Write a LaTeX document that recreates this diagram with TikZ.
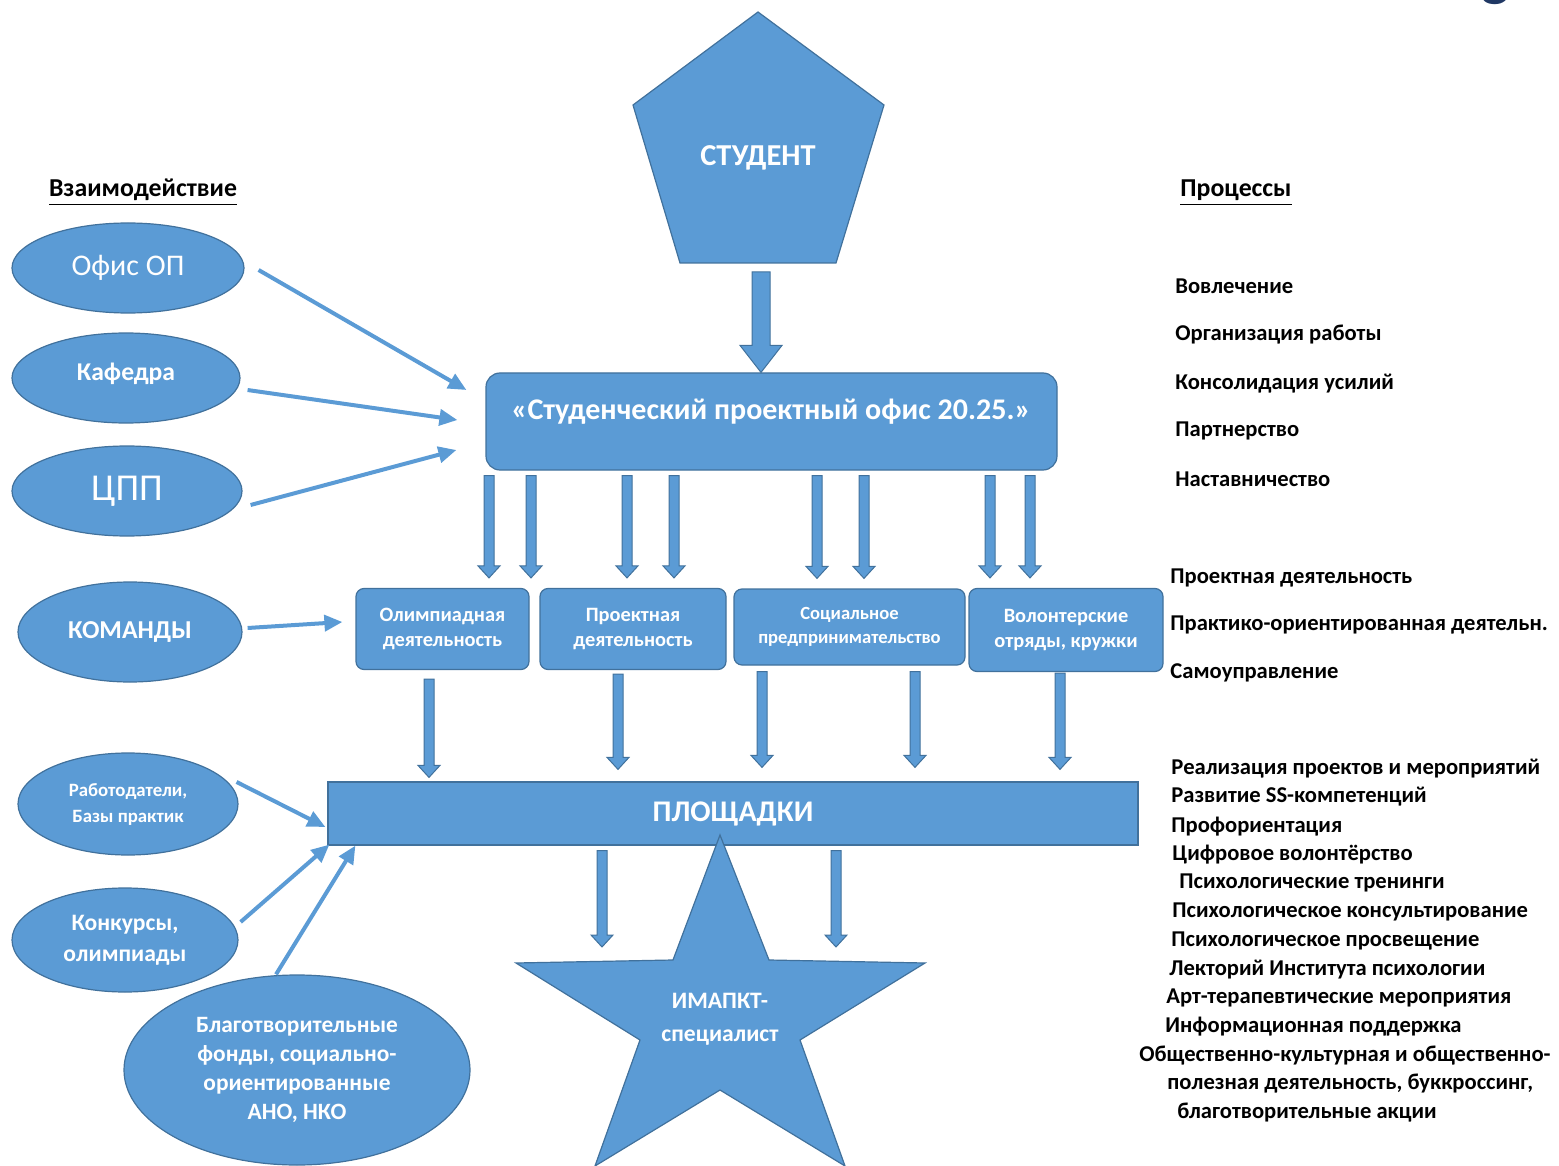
\documentclass[tikz,border=0pt]{standalone}
\usepackage{fontspec}
\setmainfont{Carlito}
\usetikzlibrary{shapes.geometric,arrows.meta,calc}
\definecolor{fillb}{HTML}{5B9BD5}
\definecolor{edgeb}{HTML}{41719C}
\definecolor{navy}{HTML}{203864}
\begin{document}
\begin{tikzpicture}[x=0.5pt,y=-0.5pt,
  shp/.style={fill=fillb,draw=edgeb,line width=0.6pt},
  ell/.style={shp,ellipse,inner sep=0pt,text=white,font=\bfseries,align=center},
  rbox/.style={shp,rounded corners=4pt,inner sep=0pt,text=white,font=\bfseries,align=center},
  lbl/.style={anchor=base west,inner sep=0pt,font=\bfseries\fontsize{11.3}{13}\selectfont},
  hdr/.style={anchor=base,inner sep=0pt,font=\bfseries\fontsize{12.9}{15}\selectfont},
  larrow/.style={draw=fillb,line width=2pt,-{Triangle[length=9pt,width=8pt]}},
  barrow/.style n args={3}{shp,line width=0.5pt,to path={let \p1=(\tikztostart),\p2=(\tikztotarget) in (\x1-#1,\y1) -- (\x1-#1,\y2+#3) -- (\x1-#2,\y2+#3) -- (\x1,\y2) -- (\x1+#2,\y2+#3) -- (\x1+#1,\y2+#3) -- (\x1+#1,\y1) -- cycle}},
]
\useasboundingbox (0,0) rectangle (1559,1166);

% cut-off letter at the top right
\node[anchor=base,inner sep=0pt,text=navy,font=\bfseries\fontsize{30}{30}\selectfont] (gg) at (1496,-5) {g};

% headers
\node[hdr] (hleft) at (143,197) {\underline{Взаимодействие}};
\node[hdr] (hright) at (1236,197) {\underline{Процессы}};

% pentagon
\draw[shp] (758,12) -- (884,105) -- (836,263) -- (680,263) -- (633,105) -- cycle;
\node[text=white,font=\bfseries\fontsize{15.2}{17}\selectfont] (student) at (758,158) {СТУДЕНТ};
\coordinate (studbot) at (761,272);

% main box
\node[rbox,rounded corners=7pt,minimum width=285.5pt,minimum height=48.5pt] (spo) at (771.5,421.5) {};
\node[text=white,font=\bfseries\fontsize{15}{17}\selectfont] (spotext) at (771,412) {«Студенческий проектный офис 20.25.»};

% activity boxes
\node[rbox,minimum width=86.5pt,minimum height=40.5pt,font=\bfseries\fontsize{10.2}{12.5}\selectfont] (oly) at (442.5,629) {Олимпиадная\\деятельность};
\node[rbox,minimum width=93pt,minimum height=40.5pt,font=\bfseries\fontsize{10.2}{12.5}\selectfont] (prj) at (633,629) {Проектная\\деятельность};
\node[rbox,minimum width=115.5pt,minimum height=38pt,font=\bfseries\fontsize{9.3}{12}\selectfont] (soc) at (849.5,627) {Социальное\\предпринимательство};
\node[rbox,minimum width=97pt,minimum height=41.5pt,font=\bfseries\fontsize{10.2}{12.5}\selectfont] (vol) at (1066,630) {Волонтерские\\отряды, кружки};

% platforms
\node[shp,inner sep=0pt,minimum width=405pt,minimum height=31.5pt,text=white,font=\bfseries\fontsize{15}{17}\selectfont] (plosh) at (733,813.5) {ПЛОЩАДКИ};

% star
\draw[shp] (720,835) -- (769,960) -- (925,963) -- (800,1040) -- (845,1166) -- (720,1090) -- (595,1166) -- (640,1040) -- (516,963) -- (673,960) -- cycle;
\node[text=white,align=center,font=\bfseries\fontsize{11.8}{16.5}\selectfont] (impact) at (720,1019) {ИМАПКТ-\\специалист};

% ellipses
\node[ell,minimum width=116pt,minimum height=45pt,font=\fontsize{15}{17}\selectfont] (ofis) at (128,268) {Офис ОП};
\node[ell,minimum width=114pt,minimum height=45pt,font=\bfseries\fontsize{12.8}{15}\selectfont,text depth=6pt] (kaf) at (126,378) {Кафедра};
\node[ell,minimum width=115pt,minimum height=45pt,font=\fontsize{19}{21}\selectfont] (cpp) at (127,491) {ЦПП};
\node[ell,minimum width=112pt,minimum height=50pt,font=\bfseries\fontsize{12.9}{15}\selectfont] (kom) at (130,632) {КОМАНДЫ};
\node[ell,minimum width=110pt,minimum height=51pt,font=\bfseries\fontsize{9.4}{13}\selectfont] (rab) at (128,804) {Работодатели,\\Базы практик};
\node[ell,minimum width=113pt,minimum height=52pt,font=\bfseries\fontsize{11.8}{15.5}\selectfont] (konk) at (125,940) {Конкурсы,\\олимпиады};
\node[ell,minimum width=173pt,minimum height=95pt,font=\bfseries\fontsize{11.7}{14.5}\selectfont] (blag) at (297,1070) {Благотворительные\\фонды, социально-\\ориентированные\\АНО, НКО};

% thin arrows
\draw[larrow] ($(ofis.east)+(14,2)$) -- ($(spo.west)+(-19,-31.5)$);
\draw[larrow] ($(kaf.east)+(7,12)$) -- ($(spo.west)+(-28,-1.5)$);
\draw[larrow] ($(cpp.east)+(8,14)$) -- ($(spo.west)+(-29,28.5)$);
\draw[larrow] ($(kom.east)+(5,-4)$) -- ($(oly.west)+(-13,-7)$);
\draw[larrow] ($(rab.east)+(-2,-22)$) -- ($(plosh.west)+(-2,13.5)$);
\draw[larrow] ($(konk.east)+(2,-18)$) -- ($(plosh.south west)+(2,-1)$);
\draw[larrow] ($(blag.north)+(-21,0)$) -- ($(plosh.south west)+(28,0)$);

% block arrows
\draw[barrow={4.5pt}{10.5pt}{13.5pt}] (studbot) to (spo.north -| studbot);
\foreach \xx/\tg in {489/oly,531/oly,627/prj,674/prj,817/soc,864/soc,990/vol,1030/vol}{
  \draw[barrow={2.5pt}{5.5pt}{6pt}] ($(spo.south -| \xx,0)+(0,5)$) to ($(\tg.north -| \xx,0)+(0,-10)$);
}
\draw[barrow={2.5pt}{5.5pt}{6pt}] ($(oly.south -| 429,0)+(0,9)$) to ($(plosh.north -| 429,0)+(0,-4)$);
\draw[barrow={2.5pt}{5.5pt}{6pt}] ($(prj.south -| 618,0)+(0,4)$) to ($(plosh.north -| 618,0)+(0,-12)$);
\draw[barrow={2.5pt}{5.5pt}{6pt}] ($(soc.south -| 762,0)+(0,6)$) to ($(plosh.north -| 762,0)+(0,-14)$);
\draw[barrow={2.5pt}{5.5pt}{6pt}] ($(soc.south -| 915,0)+(0,6)$) to ($(plosh.north -| 915,0)+(0,-14)$);
\draw[barrow={2.5pt}{5.5pt}{6pt}] ($(vol.south -| 1060,0)+(0,1)$) to ($(plosh.north -| 1060,0)+(0,-12)$);
\coordinate (starL) at (602,963);
\coordinate (starR) at (836,963);
\draw[barrow={2.5pt}{5.5pt}{6pt}] ($(plosh.south -| 602,0)+(0,5)$) to ($(starL)+(0,-16)$);
\draw[barrow={2.5pt}{5.5pt}{6pt}] ($(plosh.south -| 836,0)+(0,5)$) to ($(starR)+(0,-16)$);

% right-side process lists
\node[lbl] (p1) at (1175,294) {Вовлечение};
\node[lbl] (p2) at (1175,341) {Организация работы};
\node[lbl] (p3) at (1175,390) {Консолидация усилий};
\node[lbl] (p4) at (1175,437) {Партнерство};
\node[lbl] (p5) at (1175,486) {Наставничество};
\node[lbl] (q1) at (1170,583) {Проектная деятельность};
\node[lbl] (q2) at (1170,630) {Практико-ориентированная деятельн.};
\node[lbl] (q3) at (1170,678) {Самоуправление};
\node[lbl] (r1) at (1171,774) {Реализация проектов и мероприятий};
\node[lbl] (r2) at (1171,802) {Развитие SS-компетенций};
\node[lbl] (r3) at (1171,832) {Профориентация};
\node[lbl] (r4) at (1172,860) {Цифровое волонтёрство};
\node[lbl] (r5) at (1179,888) {Психологические тренинги};
\node[lbl] (r6) at (1172,917) {Психологическое консультирование};
\node[lbl] (r7) at (1171,946) {Психологическое просвещение};
\node[lbl] (r8) at (1169,975) {Лекторий Института психологии};
\node[lbl] (r9) at (1166,1003) {Арт-терапевтические мероприятия};
\node[lbl] (r10) at (1165,1032) {Информационная поддержка};
\node[lbl] (r11) at (1139,1061) {Общественно-культурная и общественно-};
\node[lbl] (r12) at (1167,1089) {полезная деятельность, буккроссинг,};
\node[lbl] (r13) at (1177,1118) {благотворительные акции};
\end{tikzpicture}
\end{document}
